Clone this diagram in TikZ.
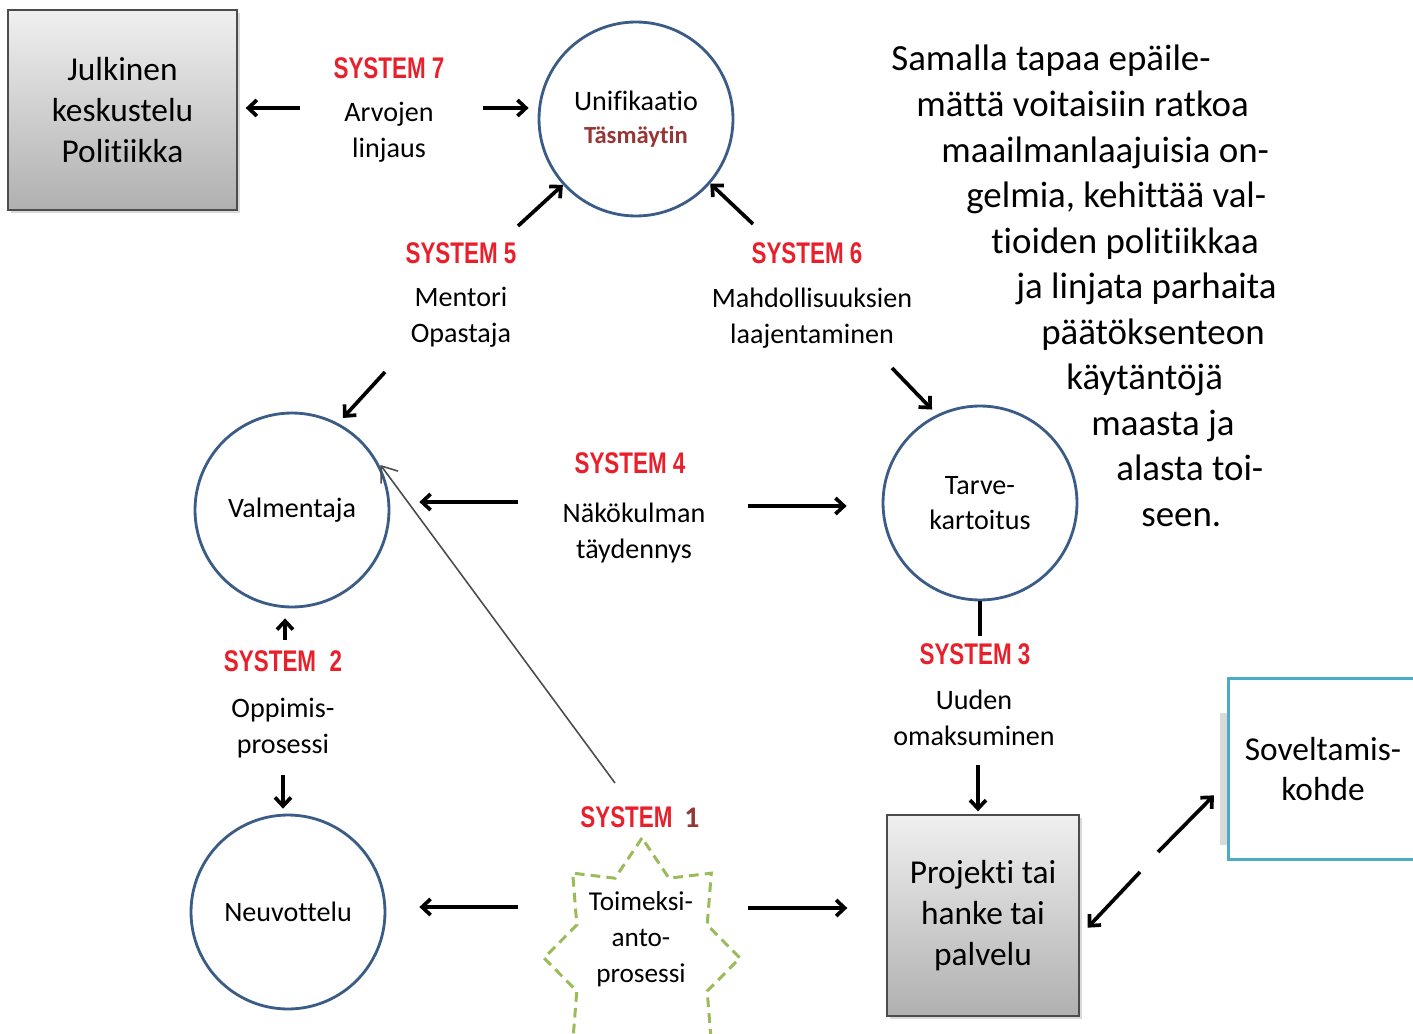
\documentclass[tikz,border=0pt]{standalone}
\usepackage{fontspec}
\setmainfont{Carlito}[Ligatures=NoCommon]
\newfontfamily\sysfont{Liberation Sans}[FakeStretch=0.75]
\definecolor{circblue}{RGB}{59,92,135}
\definecolor{sysred}{RGB}{232,32,44}
\definecolor{darkred}{RGB}{149,55,53}
\definecolor{stargreen}{RGB}{155,187,89}
\definecolor{sovteal}{RGB}{75,172,198}
\usetikzlibrary{arrows.meta,positioning,shadows}

\begin{document}
\begin{tikzpicture}[x=0.02cm, y=-0.02cm,
    circ/.style={circle, draw=circblue, line width=1.6pt, minimum size=3.88cm, inner sep=0pt, align=center, font=\fontsize{16}{20}\selectfont},
    greybox/.style={rectangle, draw=black!70, line width=0.8pt, top color=gray!12, bottom color=gray!62, drop shadow={shadow xshift=1.5pt, shadow yshift=-1.5pt, opacity=0.3}, align=center, font=\fontsize{19}{23.3}\selectfont},
    sys/.style={text=sysred, inner sep=1pt, font=\fontsize{17}{20}\sysfont\bfseries},
    lbl/.style={align=center, inner sep=1pt, font=\fontsize{16}{20.5}\selectfont},
    arr/.style={-{Straight Barb[length=1.7mm, width=3.2mm]}, line width=2.1pt},
    greyarr/.style={-{Straight Barb[length=2.8mm, width=4.2mm]}, line width=0.9pt, gray!60!black}]

    \useasboundingbox (0,0) rectangle (1413,1034);
    \clip (0,0) rectangle (1413,1034);

    % boxes and circles
    \node[greybox, minimum width=4.58cm, minimum height=4cm] (julk) at (122.5,110) {Julkinen\\keskustelu\\Politiikka};

    \node[circ] (uni) at (636,119) {Unifikaatio\\[-1pt]{\fontsize{14}{18}\selectfont\bfseries\color{darkred}Täsmäytin}};

    \node[circ] (valm) at (292,510) {Valmentaja};

    \node[circ] (tarve) at (980,503) {Tarve-\\kartoitus};

    \node[circ] (neuv) at (288,912) {Neuvottelu};

    \node[greybox, minimum width=3.84cm, minimum height=4.02cm] (proj) at (983,915.5) {Projekti tai\\hanke tai\\palvelu};

    \fill[gray!30] (1220,713) rectangle (1227,845);
    \node[rectangle, draw=sovteal, fill=white, line width=1.7pt, minimum width=3.8cm, minimum height=3.64cm, align=center, font=\fontsize{19}{23.3}\selectfont] (sov) at (1323,769) {Soveltamis-\\kohde};

    \draw[stargreen, line width=1.7pt, dash pattern=on 5.5pt off 3.5pt] plot[samples at={0,...,15}, variable=\k] ({642+98*(1-0.28*mod(\k,2))*cos(90+22.5*\k)}, {958-120*(1-0.28*mod(\k,2))*sin(90+22.5*\k)}) -- cycle;
    \node[lbl, font=\fontsize{15.5}{20.5}\selectfont] (toim) at (641,939) {Toimeksi-\\anto-\\prosessi};

    % system labels
    \node[sys] (s7) at (389,68) {SYSTEM 7};
    \node[lbl] (arv) at (389,132) {Arvojen\\linjaus};

    \node[sys] (s5) at (461,253) {SYSTEM 5};
    \node[lbl] (ment) at (461,317) {Mentori\\Opastaja};

    \node[sys] (s6) at (807,253) {SYSTEM 6};
    \node[lbl] (mahd) at (812,318) {Mahdollisuuksien\\laajentaminen};

    \node[sys] (s4) at (630,463) {SYSTEM 4};
    \node[lbl] (nak) at (634,533) {Näkökulman\\täydennys};

    \node[sys] (s3) at (975,654) {SYSTEM 3};
    \node[lbl] (uud) at (974,718) {Uuden\\omaksuminen};

    \node[sys] (s2) at (283,661) {SYSTEM\hspace{0.45em}2};
    \node[lbl] (opp) at (283,728) {Oppimis-\\prosessi};

    \node[sys] (s1) at (640,817) {SYSTEM\hspace{0.4em}{\fontsize{17}{20}\rmfamily\bfseries\color{darkred}1}};

    % free ends of the arrows
    \coordinate (c7l) at (300,108);
    \coordinate (c7r) at (483,108);
    \coordinate (c5u) at (518,226);
    \coordinate (c6u) at (753,224);
    \coordinate (c5d) at (385,372);
    \coordinate (c6d) at (892,368);
    \coordinate (c4l) at (518,502);
    \coordinate (c4r) at (748,506);
    \coordinate (c3t) at (980,636);
    \coordinate (c3d) at (978,765);
    \coordinate (csov) at (1158,852);
    \coordinate (cproj) at (1140,872);
    \coordinate (c1g) at (615,783);
    \coordinate (c2u) at (285,640);
    \coordinate (c2d) at (283,775);
    \coordinate (c1l) at (518,907);
    \coordinate (c1r) at (748,908);

    \draw[arr, shorten >=0.16cm] (c7l) -- (c7l -| julk.east);
    \draw[arr, shorten >=0.18cm] (c7r) -- (c7r -| uni.west);
    \draw[arr] (c5u) -- (uni.222);
    \draw[arr] (c6u) -- (uni.319);
    \draw[arr, shorten >=0.14cm] (c5d) -- (valm.62);
    \draw[arr, shorten >=0.14cm] (c6d) -- (tarve.116);
    \draw[arr, shorten >=0.58cm] (c4l) -- (c4l -| valm.east);
    \draw[arr, shorten >=0.7cm] (c4r) -- (c4r -| tarve.west);
    \draw[line width=2.1pt] (tarve.south) -- (c3t);
    \draw[arr, shorten >=0.06cm] (c3d) -- (c3d |- proj.north);
    \draw[arr, shorten >=0.36cm] (csov) -- (sov.188);
    \draw[arr, shorten >=0.23cm] (cproj) -- (proj.348);
    \draw[greyarr, shorten >=0.14cm] (c1g) -- (valm.31);
    \draw[arr, shorten >=0.2cm] (c2u) -- (c2u |- valm.south);
    \draw[arr, shorten >=0.1cm] (c2d) -- (c2d |- neuv.north);
    \draw[arr, shorten >=0.66cm] (c1l) -- (c1l -| neuv.east);
    \draw[arr, shorten >=0.78cm] (c1r) -- (c1r -| proj.west);

    % text on the right
    \foreach \i/\t in {1/Samalla tapaa epäile-, 2/mättä voitaisiin ratkoa, 3/maailmanlaajuisia on-, 4/{gelmia, kehittää val-}, 5/tioiden politiikkaa, 6/ja linjata parhaita, 7/päätöksenteon, 8/käytäntöjä, 9/maasta ja, 10/alasta toi-, 11/seen.}
        \node[anchor=base west, inner sep=0pt, font=\fontsize{21}{25.9}\selectfont] (para\i) at ({891+25*(\i-1)}, {71+45.5*(\i-1)}) {\t};
\end{tikzpicture}
\end{document}
